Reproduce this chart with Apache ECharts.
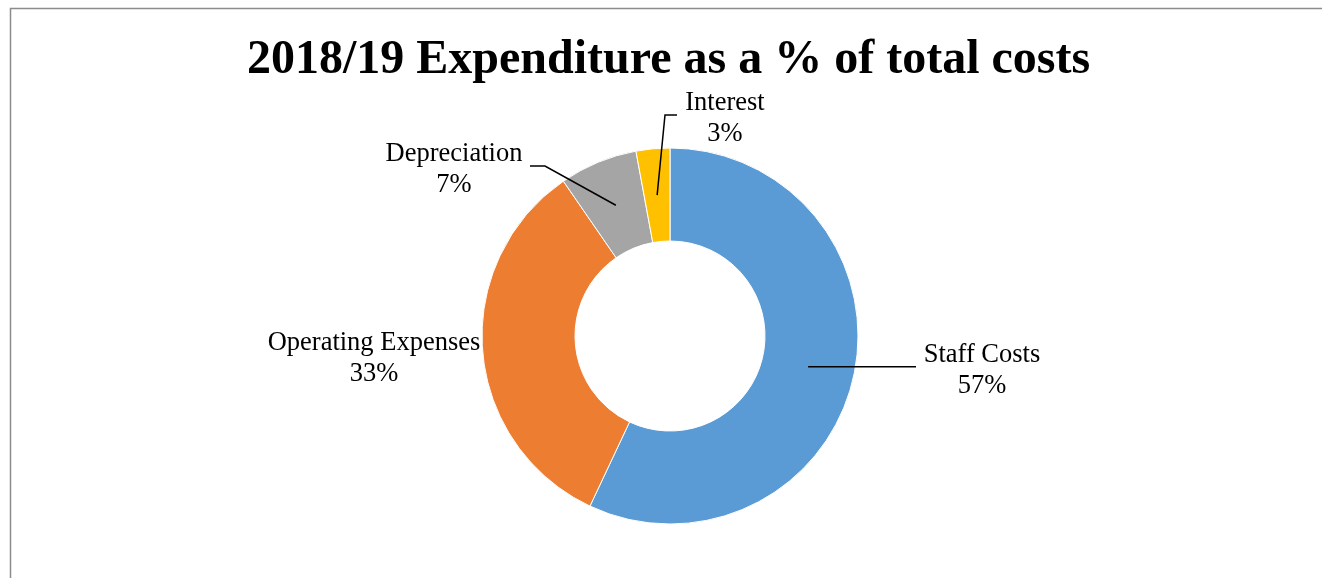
<!DOCTYPE html>
<html>
<head>
<meta charset="utf-8">
<script src="https://cdn.jsdelivr.net/npm/echarts@6/dist/echarts.min.js"></script>
<style>
html,body{margin:0;padding:0;background:#fff;}
#chart{width:1322px;height:578px;}
</style>
</head>
<body>
<div id="chart"></div>
<script>
const titleText = '2018/19 Expenditure as a % of total costs';
const categories = ['Staff Costs', 'Operating Expenses', 'Depreciation', 'Interest'];
const values = [57.0, 33.4, 6.7, 2.9];
const colors = ['#5B9BD5', '#ED7D31', '#A5A5A5', '#FFC000'];

// label layout (positions only)
const labelPos = [
  {x: 982, y: 371, line: 'h', end: [916, null]},
  {x: 374, y: 359, line: null},
  {x: 454, y: 170, line: 'dep', bend: [545, 166], end: [530, 166]},
  {x: 725, y: 119, line: 'int', bend: [665, 115], end: [677, 115]}
];

const center = [670, 336];
const radii = [95, 188];
const midR = (radii[0] + radii[1]) / 2;

const chart = echarts.init(document.getElementById('chart'), null, {renderer: 'canvas'});

const baseData = categories.map((c, i) => ({
  name: c,
  value: values[i],
  itemStyle: {color: colors[i]}
}));
const labelData = categories.map((c, i) => ({
  name: c,
  value: values[i],
  labelLine: {show: labelPos[i].line !== null}
}));

chart.setOption({
  animation: false,
  backgroundColor: '#fff',
  graphic: [{
    type: 'rect',
    shape: {x: 10.5, y: 8.5, width: 1400, height: 700},
    style: {fill: 'none', stroke: '#8c8c8c', lineWidth: 1.5},
    silent: true
  }],
  title: {
    text: titleText,
    left: 242,
    top: 32,
    textStyle: {
      fontFamily: 'Liberation Serif, Times New Roman, serif',
      fontWeight: 'bold',
      fontSize: 48,
      color: '#000'
    }
  },
  series: [{
    type: 'pie',
    z: 2,
    center: center,
    radius: radii,
    startAngle: 90,
    clockwise: true,
    itemStyle: {borderColor: '#fff', borderWidth: 1},
    label: {show: false},
    labelLine: {show: false},
    emphasis: {disabled: true},
    data: baseData
  }, {
    type: 'pie',
    z: 5,
    silent: true,
    center: center,
    radius: radii,
    startAngle: 90,
    clockwise: true,
    avoidLabelOverlap: false,
    itemStyle: {color: 'rgba(0,0,0,0)', borderWidth: 0},
    emphasis: {disabled: true},
    label: {
      show: true,
      position: 'outside',
      formatter: p => p.name + '\n' + Math.round(p.percent) + '%',
      fontFamily: 'Liberation Serif, Times New Roman, serif',
      fontSize: 26.5,
      lineHeight: 31,
      color: '#000',
      align: 'center'
    },
    labelLine: {
      show: true,
      lineStyle: {color: '#000', width: 1.5}
    },
    labelLayout: function (params) {
      const lp = labelPos[params.dataIndex];
      const res = {x: lp.x, y: lp.y, align: 'center', verticalAlign: 'middle'};
      if (lp.line && params.labelLinePoints) {
        const p0 = params.labelLinePoints[0];
        const dx = p0[0] - center[0], dy = p0[1] - center[1];
        const len = Math.sqrt(dx * dx + dy * dy);
        const s = [center[0] + dx / len * midR, center[1] + dy / len * midR];
        if (lp.line === 'h') {
          const e = [lp.end[0], s[1]];
          res.labelLinePoints = [s, [(s[0] + e[0]) / 2, s[1]], e];
        } else {
          res.labelLinePoints = [s, lp.bend, lp.end];
        }
      }
      return res;
    },
    data: labelData
  }]
});
</script>
</body>
</html>
